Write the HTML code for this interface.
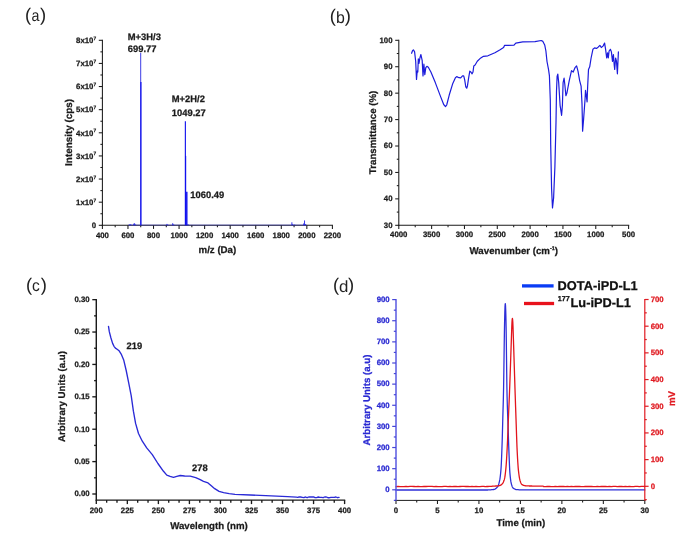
<!DOCTYPE html>
<html><head><meta charset="utf-8"><title>Figure</title>
<style>
html,body{margin:0;padding:0;background:#fff;}
svg{display:block;font-family:"Liberation Sans", Arial, sans-serif;}
</style></head><body>
<svg width="685" height="539" viewBox="0 0 685 539" text-rendering="geometricPrecision">
<rect width="685" height="539" fill="#fff"/>
<text x="24.90" y="20.65" font-size="18.4" fill="#222">(</text>
<text transform="translate(31.40 21.10) scale(0.87 1)" font-size="16.4" fill="#222">a</text>
<text x="40.10" y="20.65" font-size="18.4" fill="#222">)</text>
<text x="329.80" y="22.45" font-size="18.4" fill="#222">(</text>
<text transform="translate(336.10 22.90) scale(0.97 1)" font-size="16.4" fill="#222">b</text>
<text x="344.80" y="22.45" font-size="18.4" fill="#222">)</text>
<text x="26.00" y="290.95" font-size="18.4" fill="#222">(</text>
<text transform="translate(32.10 291.40) scale(0.95 1)" font-size="16.4" fill="#222">c</text>
<text x="40.70" y="290.95" font-size="18.4" fill="#222">)</text>
<text x="332.90" y="291.15" font-size="18.4" fill="#222">(</text>
<text transform="translate(338.90 291.60) scale(1.03 1)" font-size="16.4" fill="#222">d</text>
<text x="348.10" y="291.15" font-size="18.4" fill="#222">)</text>
<line x1="102.40" y1="39.70" x2="102.40" y2="225.90" stroke="#1a1a1a" stroke-width="1.05" />
<line x1="101.80" y1="225.30" x2="333.00" y2="225.30" stroke="#1a1a1a" stroke-width="1.05" />
<line x1="98.80" y1="225.30" x2="102.40" y2="225.30" stroke="#1a1a1a" stroke-width="1.05" />
<line x1="100.40" y1="213.74" x2="102.40" y2="213.74" stroke="#1a1a1a" stroke-width="1.05" />
<text x="96.10" y="228.00" font-size="7.8" font-weight="bold" text-anchor="end" fill="#1a1a1a" stroke="#1a1a1a" stroke-width="0.25" >0</text>
<line x1="98.80" y1="202.18" x2="102.40" y2="202.18" stroke="#1a1a1a" stroke-width="1.05" />
<line x1="100.40" y1="190.61" x2="102.40" y2="190.61" stroke="#1a1a1a" stroke-width="1.05" />
<text x="96.10" y="204.88" font-size="7.8" font-weight="bold" text-anchor="end" fill="#1a1a1a" stroke="#1a1a1a" stroke-width="0.25">1x10<tspan font-size="4.8" dy="-3.2">7</tspan></text>
<line x1="98.80" y1="179.05" x2="102.40" y2="179.05" stroke="#1a1a1a" stroke-width="1.05" />
<line x1="100.40" y1="167.49" x2="102.40" y2="167.49" stroke="#1a1a1a" stroke-width="1.05" />
<text x="96.10" y="181.75" font-size="7.8" font-weight="bold" text-anchor="end" fill="#1a1a1a" stroke="#1a1a1a" stroke-width="0.25">2x10<tspan font-size="4.8" dy="-3.2">7</tspan></text>
<line x1="98.80" y1="155.93" x2="102.40" y2="155.93" stroke="#1a1a1a" stroke-width="1.05" />
<line x1="100.40" y1="144.36" x2="102.40" y2="144.36" stroke="#1a1a1a" stroke-width="1.05" />
<text x="96.10" y="158.62" font-size="7.8" font-weight="bold" text-anchor="end" fill="#1a1a1a" stroke="#1a1a1a" stroke-width="0.25">3x10<tspan font-size="4.8" dy="-3.2">7</tspan></text>
<line x1="98.80" y1="132.80" x2="102.40" y2="132.80" stroke="#1a1a1a" stroke-width="1.05" />
<line x1="100.40" y1="121.24" x2="102.40" y2="121.24" stroke="#1a1a1a" stroke-width="1.05" />
<text x="96.10" y="135.50" font-size="7.8" font-weight="bold" text-anchor="end" fill="#1a1a1a" stroke="#1a1a1a" stroke-width="0.25">4x10<tspan font-size="4.8" dy="-3.2">7</tspan></text>
<line x1="98.80" y1="109.68" x2="102.40" y2="109.68" stroke="#1a1a1a" stroke-width="1.05" />
<line x1="100.40" y1="98.11" x2="102.40" y2="98.11" stroke="#1a1a1a" stroke-width="1.05" />
<text x="96.10" y="112.38" font-size="7.8" font-weight="bold" text-anchor="end" fill="#1a1a1a" stroke="#1a1a1a" stroke-width="0.25">5x10<tspan font-size="4.8" dy="-3.2">7</tspan></text>
<line x1="98.80" y1="86.55" x2="102.40" y2="86.55" stroke="#1a1a1a" stroke-width="1.05" />
<line x1="100.40" y1="74.99" x2="102.40" y2="74.99" stroke="#1a1a1a" stroke-width="1.05" />
<text x="96.10" y="89.25" font-size="7.8" font-weight="bold" text-anchor="end" fill="#1a1a1a" stroke="#1a1a1a" stroke-width="0.25">6x10<tspan font-size="4.8" dy="-3.2">7</tspan></text>
<line x1="98.80" y1="63.43" x2="102.40" y2="63.43" stroke="#1a1a1a" stroke-width="1.05" />
<line x1="100.40" y1="51.86" x2="102.40" y2="51.86" stroke="#1a1a1a" stroke-width="1.05" />
<text x="96.10" y="66.13" font-size="7.8" font-weight="bold" text-anchor="end" fill="#1a1a1a" stroke="#1a1a1a" stroke-width="0.25">7x10<tspan font-size="4.8" dy="-3.2">7</tspan></text>
<line x1="98.80" y1="40.30" x2="102.40" y2="40.30" stroke="#1a1a1a" stroke-width="1.05" />
<text x="96.10" y="43.00" font-size="7.8" font-weight="bold" text-anchor="end" fill="#1a1a1a" stroke="#1a1a1a" stroke-width="0.25">8x10<tspan font-size="4.8" dy="-3.2">7</tspan></text>
<line x1="102.40" y1="225.30" x2="102.40" y2="228.90" stroke="#1a1a1a" stroke-width="1.05" />
<line x1="115.18" y1="225.30" x2="115.18" y2="227.30" stroke="#1a1a1a" stroke-width="1.05" />
<text x="102.40" y="237.70" font-size="7.8" font-weight="bold" text-anchor="middle" fill="#1a1a1a" stroke="#1a1a1a" stroke-width="0.25" >400</text>
<line x1="127.96" y1="225.30" x2="127.96" y2="228.90" stroke="#1a1a1a" stroke-width="1.05" />
<line x1="140.73" y1="225.30" x2="140.73" y2="227.30" stroke="#1a1a1a" stroke-width="1.05" />
<text x="127.96" y="237.70" font-size="7.8" font-weight="bold" text-anchor="middle" fill="#1a1a1a" stroke="#1a1a1a" stroke-width="0.25" >600</text>
<line x1="153.51" y1="225.30" x2="153.51" y2="228.90" stroke="#1a1a1a" stroke-width="1.05" />
<line x1="166.29" y1="225.30" x2="166.29" y2="227.30" stroke="#1a1a1a" stroke-width="1.05" />
<text x="153.51" y="237.70" font-size="7.8" font-weight="bold" text-anchor="middle" fill="#1a1a1a" stroke="#1a1a1a" stroke-width="0.25" >800</text>
<line x1="179.07" y1="225.30" x2="179.07" y2="228.90" stroke="#1a1a1a" stroke-width="1.05" />
<line x1="191.84" y1="225.30" x2="191.84" y2="227.30" stroke="#1a1a1a" stroke-width="1.05" />
<text x="179.07" y="237.70" font-size="7.8" font-weight="bold" text-anchor="middle" fill="#1a1a1a" stroke="#1a1a1a" stroke-width="0.25" >1000</text>
<line x1="204.62" y1="225.30" x2="204.62" y2="228.90" stroke="#1a1a1a" stroke-width="1.05" />
<line x1="217.40" y1="225.30" x2="217.40" y2="227.30" stroke="#1a1a1a" stroke-width="1.05" />
<text x="204.62" y="237.70" font-size="7.8" font-weight="bold" text-anchor="middle" fill="#1a1a1a" stroke="#1a1a1a" stroke-width="0.25" >1200</text>
<line x1="230.18" y1="225.30" x2="230.18" y2="228.90" stroke="#1a1a1a" stroke-width="1.05" />
<line x1="242.96" y1="225.30" x2="242.96" y2="227.30" stroke="#1a1a1a" stroke-width="1.05" />
<text x="230.18" y="237.70" font-size="7.8" font-weight="bold" text-anchor="middle" fill="#1a1a1a" stroke="#1a1a1a" stroke-width="0.25" >1400</text>
<line x1="255.73" y1="225.30" x2="255.73" y2="228.90" stroke="#1a1a1a" stroke-width="1.05" />
<line x1="268.51" y1="225.30" x2="268.51" y2="227.30" stroke="#1a1a1a" stroke-width="1.05" />
<text x="255.73" y="237.70" font-size="7.8" font-weight="bold" text-anchor="middle" fill="#1a1a1a" stroke="#1a1a1a" stroke-width="0.25" >1600</text>
<line x1="281.29" y1="225.30" x2="281.29" y2="228.90" stroke="#1a1a1a" stroke-width="1.05" />
<line x1="294.07" y1="225.30" x2="294.07" y2="227.30" stroke="#1a1a1a" stroke-width="1.05" />
<text x="281.29" y="237.70" font-size="7.8" font-weight="bold" text-anchor="middle" fill="#1a1a1a" stroke="#1a1a1a" stroke-width="0.25" >1800</text>
<line x1="306.84" y1="225.30" x2="306.84" y2="228.90" stroke="#1a1a1a" stroke-width="1.05" />
<line x1="319.62" y1="225.30" x2="319.62" y2="227.30" stroke="#1a1a1a" stroke-width="1.05" />
<text x="306.84" y="237.70" font-size="7.8" font-weight="bold" text-anchor="middle" fill="#1a1a1a" stroke="#1a1a1a" stroke-width="0.25" >2000</text>
<line x1="332.40" y1="225.30" x2="332.40" y2="228.90" stroke="#1a1a1a" stroke-width="1.05" />
<text x="332.40" y="237.70" font-size="7.8" font-weight="bold" text-anchor="middle" fill="#1a1a1a" stroke="#1a1a1a" stroke-width="0.25" >2200</text>
<text x="217.40" y="253.00" font-size="9.7" font-weight="bold" text-anchor="middle" fill="#1a1a1a" stroke="#1a1a1a" stroke-width="0.25" >m/z (Da)</text>
<text x="72.30" y="132.40" font-size="9.899999999999999" font-weight="bold" text-anchor="middle" fill="#1a1a1a" stroke="#1a1a1a" stroke-width="0.25" transform="rotate(-90 72.30 132.40)" >Intensity (cps)</text>
<line x1="140.70" y1="225.30" x2="140.70" y2="52.79" stroke="#3232e4" stroke-width="0.95" />
<line x1="140.93" y1="225.30" x2="140.93" y2="81.93" stroke="#0a0aee" stroke-width="1.1" />
<line x1="185.36" y1="225.30" x2="185.36" y2="121.24" stroke="#0a0aee" stroke-width="1.1" />
<line x1="185.71" y1="225.30" x2="185.71" y2="155.93" stroke="#0a0aee" stroke-width="0.9" />
<line x1="186.80" y1="225.30" x2="186.80" y2="191.77" stroke="#0a0aee" stroke-width="1.4" />
<line x1="129.49" y1="225.30" x2="129.49" y2="224.49" stroke="#2020e8" stroke-width="0.9" />
<line x1="130.77" y1="225.30" x2="130.77" y2="224.14" stroke="#2020e8" stroke-width="0.9" />
<line x1="133.71" y1="225.30" x2="133.71" y2="223.68" stroke="#2020e8" stroke-width="0.9" />
<line x1="134.60" y1="225.30" x2="134.60" y2="223.22" stroke="#2020e8" stroke-width="0.9" />
<line x1="135.62" y1="225.30" x2="135.62" y2="224.49" stroke="#2020e8" stroke-width="0.9" />
<line x1="166.93" y1="225.30" x2="166.93" y2="223.91" stroke="#2020e8" stroke-width="0.9" />
<line x1="167.82" y1="225.30" x2="167.82" y2="224.61" stroke="#2020e8" stroke-width="0.9" />
<line x1="172.68" y1="225.30" x2="172.68" y2="223.22" stroke="#2020e8" stroke-width="0.9" />
<line x1="173.70" y1="225.30" x2="173.70" y2="224.38" stroke="#2020e8" stroke-width="0.9" />
<line x1="188.01" y1="225.30" x2="188.01" y2="224.14" stroke="#2020e8" stroke-width="0.9" />
<line x1="291.89" y1="225.30" x2="291.89" y2="222.29" stroke="#2020e8" stroke-width="0.9" />
<line x1="292.79" y1="225.30" x2="292.79" y2="224.14" stroke="#2020e8" stroke-width="0.9" />
<line x1="294.71" y1="225.30" x2="294.71" y2="224.61" stroke="#2020e8" stroke-width="0.9" />
<line x1="303.65" y1="225.30" x2="303.65" y2="223.45" stroke="#2020e8" stroke-width="0.9" />
<line x1="304.54" y1="225.30" x2="304.54" y2="220.44" stroke="#2020e8" stroke-width="0.9" />
<line x1="305.57" y1="225.30" x2="305.57" y2="224.14" stroke="#2020e8" stroke-width="0.9" />
<line x1="127.96" y1="225.00" x2="306.84" y2="225.00" stroke="#2222dd" stroke-width="0.7" opacity="0.6"/>
<text x="127.80" y="39.60" font-size="9.38" font-weight="bold" text-anchor="start" fill="#1a1a1a" stroke="#1a1a1a" stroke-width="0.25" >M+3H/3</text>
<text x="127.80" y="52.20" font-size="9.38" font-weight="bold" text-anchor="start" fill="#1a1a1a" stroke="#1a1a1a" stroke-width="0.25" >699.77</text>
<text x="171.80" y="102.00" font-size="9.38" font-weight="bold" text-anchor="start" fill="#1a1a1a" stroke="#1a1a1a" stroke-width="0.25" >M+2H/2</text>
<text x="171.80" y="115.70" font-size="9.38" font-weight="bold" text-anchor="start" fill="#1a1a1a" stroke="#1a1a1a" stroke-width="0.25" >1049.27</text>
<text x="190.30" y="198.40" font-size="9.38" font-weight="bold" text-anchor="start" fill="#1a1a1a" stroke="#1a1a1a" stroke-width="0.25" >1060.49</text>
<line x1="398.80" y1="39.70" x2="398.80" y2="225.90" stroke="#1a1a1a" stroke-width="1.05" />
<line x1="398.20" y1="225.30" x2="629.20" y2="225.30" stroke="#1a1a1a" stroke-width="1.05" />
<line x1="395.20" y1="225.30" x2="398.80" y2="225.30" stroke="#1a1a1a" stroke-width="1.05" />
<line x1="396.80" y1="212.09" x2="398.80" y2="212.09" stroke="#1a1a1a" stroke-width="1.05" />
<text x="392.50" y="227.75" font-size="7.8" font-weight="bold" text-anchor="end" fill="#1a1a1a" stroke="#1a1a1a" stroke-width="0.25" >30</text>
<line x1="395.20" y1="198.87" x2="398.80" y2="198.87" stroke="#1a1a1a" stroke-width="1.05" />
<line x1="396.80" y1="185.66" x2="398.80" y2="185.66" stroke="#1a1a1a" stroke-width="1.05" />
<text x="392.50" y="201.32" font-size="7.8" font-weight="bold" text-anchor="end" fill="#1a1a1a" stroke="#1a1a1a" stroke-width="0.25" >40</text>
<line x1="395.20" y1="172.44" x2="398.80" y2="172.44" stroke="#1a1a1a" stroke-width="1.05" />
<line x1="396.80" y1="159.23" x2="398.80" y2="159.23" stroke="#1a1a1a" stroke-width="1.05" />
<text x="392.50" y="174.89" font-size="7.8" font-weight="bold" text-anchor="end" fill="#1a1a1a" stroke="#1a1a1a" stroke-width="0.25" >50</text>
<line x1="395.20" y1="146.01" x2="398.80" y2="146.01" stroke="#1a1a1a" stroke-width="1.05" />
<line x1="396.80" y1="132.80" x2="398.80" y2="132.80" stroke="#1a1a1a" stroke-width="1.05" />
<text x="392.50" y="148.46" font-size="7.8" font-weight="bold" text-anchor="end" fill="#1a1a1a" stroke="#1a1a1a" stroke-width="0.25" >60</text>
<line x1="395.20" y1="119.59" x2="398.80" y2="119.59" stroke="#1a1a1a" stroke-width="1.05" />
<line x1="396.80" y1="106.37" x2="398.80" y2="106.37" stroke="#1a1a1a" stroke-width="1.05" />
<text x="392.50" y="122.04" font-size="7.8" font-weight="bold" text-anchor="end" fill="#1a1a1a" stroke="#1a1a1a" stroke-width="0.25" >70</text>
<line x1="395.20" y1="93.16" x2="398.80" y2="93.16" stroke="#1a1a1a" stroke-width="1.05" />
<line x1="396.80" y1="79.94" x2="398.80" y2="79.94" stroke="#1a1a1a" stroke-width="1.05" />
<text x="392.50" y="95.61" font-size="7.8" font-weight="bold" text-anchor="end" fill="#1a1a1a" stroke="#1a1a1a" stroke-width="0.25" >80</text>
<line x1="395.20" y1="66.73" x2="398.80" y2="66.73" stroke="#1a1a1a" stroke-width="1.05" />
<line x1="396.80" y1="53.51" x2="398.80" y2="53.51" stroke="#1a1a1a" stroke-width="1.05" />
<text x="392.50" y="69.18" font-size="7.8" font-weight="bold" text-anchor="end" fill="#1a1a1a" stroke="#1a1a1a" stroke-width="0.25" >90</text>
<line x1="395.20" y1="40.30" x2="398.80" y2="40.30" stroke="#1a1a1a" stroke-width="1.05" />
<text x="392.50" y="42.75" font-size="7.8" font-weight="bold" text-anchor="end" fill="#1a1a1a" stroke="#1a1a1a" stroke-width="0.25" >100</text>
<line x1="398.80" y1="225.30" x2="398.80" y2="228.90" stroke="#1a1a1a" stroke-width="1.05" />
<line x1="415.21" y1="225.30" x2="415.21" y2="227.30" stroke="#1a1a1a" stroke-width="1.05" />
<text x="398.80" y="237.40" font-size="7.8" font-weight="bold" text-anchor="middle" fill="#1a1a1a" stroke="#1a1a1a" stroke-width="0.25" >4000</text>
<line x1="431.63" y1="225.30" x2="431.63" y2="228.90" stroke="#1a1a1a" stroke-width="1.05" />
<line x1="448.04" y1="225.30" x2="448.04" y2="227.30" stroke="#1a1a1a" stroke-width="1.05" />
<text x="431.63" y="237.40" font-size="7.8" font-weight="bold" text-anchor="middle" fill="#1a1a1a" stroke="#1a1a1a" stroke-width="0.25" >3500</text>
<line x1="464.46" y1="225.30" x2="464.46" y2="228.90" stroke="#1a1a1a" stroke-width="1.05" />
<line x1="480.87" y1="225.30" x2="480.87" y2="227.30" stroke="#1a1a1a" stroke-width="1.05" />
<text x="464.46" y="237.40" font-size="7.8" font-weight="bold" text-anchor="middle" fill="#1a1a1a" stroke="#1a1a1a" stroke-width="0.25" >3000</text>
<line x1="497.29" y1="225.30" x2="497.29" y2="228.90" stroke="#1a1a1a" stroke-width="1.05" />
<line x1="513.70" y1="225.30" x2="513.70" y2="227.30" stroke="#1a1a1a" stroke-width="1.05" />
<text x="497.29" y="237.40" font-size="7.8" font-weight="bold" text-anchor="middle" fill="#1a1a1a" stroke="#1a1a1a" stroke-width="0.25" >2500</text>
<line x1="530.11" y1="225.30" x2="530.11" y2="228.90" stroke="#1a1a1a" stroke-width="1.05" />
<line x1="546.53" y1="225.30" x2="546.53" y2="227.30" stroke="#1a1a1a" stroke-width="1.05" />
<text x="530.11" y="237.40" font-size="7.8" font-weight="bold" text-anchor="middle" fill="#1a1a1a" stroke="#1a1a1a" stroke-width="0.25" >2000</text>
<line x1="562.94" y1="225.30" x2="562.94" y2="228.90" stroke="#1a1a1a" stroke-width="1.05" />
<line x1="579.36" y1="225.30" x2="579.36" y2="227.30" stroke="#1a1a1a" stroke-width="1.05" />
<text x="562.94" y="237.40" font-size="7.8" font-weight="bold" text-anchor="middle" fill="#1a1a1a" stroke="#1a1a1a" stroke-width="0.25" >1500</text>
<line x1="595.77" y1="225.30" x2="595.77" y2="228.90" stroke="#1a1a1a" stroke-width="1.05" />
<line x1="612.19" y1="225.30" x2="612.19" y2="227.30" stroke="#1a1a1a" stroke-width="1.05" />
<text x="595.77" y="237.40" font-size="7.8" font-weight="bold" text-anchor="middle" fill="#1a1a1a" stroke="#1a1a1a" stroke-width="0.25" >1000</text>
<line x1="628.60" y1="225.30" x2="628.60" y2="228.90" stroke="#1a1a1a" stroke-width="1.05" />
<text x="628.60" y="237.40" font-size="7.8" font-weight="bold" text-anchor="middle" fill="#1a1a1a" stroke="#1a1a1a" stroke-width="0.25" >500</text>
<text x="513.8" y="254.4" font-size="9.7" font-weight="bold" text-anchor="middle" fill="#1a1a1a" stroke="#1a1a1a" stroke-width="0.25">Wavenumber (cm<tspan font-size="5.4" dy="-4.4">-1</tspan><tspan dy="4.4">)</tspan></text>
<text x="376.00" y="132.40" font-size="9.7" font-weight="bold" text-anchor="middle" fill="#1a1a1a" stroke="#1a1a1a" stroke-width="0.25" transform="rotate(-90 376.00 132.40)" >Transmittance (%)</text>
<polyline points="411.6,53.3 412.5,50.7 413.4,49.8 414.6,51.9 415.7,61.5 416.5,79.4 417.2,71.2 417.8,72.0 418.3,58.9 419.0,63.3 419.9,58.0 420.9,54.5 422.2,60.7 423.0,75.9 423.9,64.2 424.8,74.7 425.8,67.7 426.9,66.3 428.3,67.3 430.9,72.0 435.3,82.6 440.6,96.6 443.7,104.5 445.5,106.6 446.7,105.0 449.3,94.8 452.8,83.4 455.4,77.7 456.7,76.6 459.0,77.7 460.7,77.8 462.5,75.9 463.7,75.9 464.7,79.9 465.8,86.9 466.7,88.2 467.5,85.7 468.6,78.2 469.8,71.2 470.9,72.0 472.1,73.8 473.0,72.0 473.8,65.9 475.1,65.0 477.3,61.2 480.0,58.6 483.5,56.3 487.9,55.8 494.9,52.8 500.1,49.8 503.6,47.5 504.5,45.4 514.0,45.2 515.8,43.1 522.8,41.9 535.0,41.7 541.2,40.5 542.9,41.4 544.7,44.9 545.9,51.0 547.0,61.5 548.5,69.4 549.4,75.6 550.3,100.0 550.7,144.5 551.6,189.0 552.5,208.0 553.6,198.0 554.9,166.8 556.0,122.3 556.5,91.3 557.1,76.4 557.8,74.1 558.7,82.6 560.1,105.3 561.6,115.3 562.4,105.3 563.1,82.6 564.1,78.2 564.8,84.3 565.9,95.7 566.9,93.1 569.2,80.8 571.5,70.6 573.2,72.0 575.0,67.7 576.6,65.9 578.0,71.2 579.7,80.8 581.1,86.1 582.0,103.6 582.6,131.2 583.6,119.3 585.0,100.0 585.5,90.4 586.2,94.8 587.1,101.8 587.6,87.8 588.5,69.4 589.7,66.8 591.1,58.0 592.9,49.3 594.6,47.9 596.4,48.4 598.1,47.2 599.9,45.4 601.3,47.5 603.0,46.1 604.6,43.1 605.6,49.3 606.7,58.0 607.6,52.8 608.3,58.0 609.1,51.0 610.4,49.3 611.4,51.9 612.5,61.5 613.4,54.5 614.2,65.0 614.7,69.4 615.6,58.0 616.5,61.5 617.4,73.8 618.4,51.9" fill="none" stroke="#1c1cdc" stroke-width="1.2" stroke-linejoin="round" stroke-linecap="round" />
<line x1="96.30" y1="299.05" x2="96.30" y2="500.60" stroke="#1a1a1a" stroke-width="1.45" />
<line x1="95.70" y1="500.10" x2="345.20" y2="500.10" stroke="#1a1a1a" stroke-width="1.15" />
<line x1="92.30" y1="494.00" x2="96.30" y2="494.00" stroke="#1a1a1a" stroke-width="1.35" />
<line x1="94.10" y1="477.80" x2="96.30" y2="477.80" stroke="#1a1a1a" stroke-width="1.35" />
<text x="89.60" y="496.30" font-size="7.8" font-weight="bold" text-anchor="end" fill="#1a1a1a" stroke="#1a1a1a" stroke-width="0.25" >0.00</text>
<line x1="92.30" y1="461.61" x2="96.30" y2="461.61" stroke="#1a1a1a" stroke-width="1.35" />
<line x1="94.10" y1="445.41" x2="96.30" y2="445.41" stroke="#1a1a1a" stroke-width="1.35" />
<text x="89.60" y="463.91" font-size="7.8" font-weight="bold" text-anchor="end" fill="#1a1a1a" stroke="#1a1a1a" stroke-width="0.25" >0.05</text>
<line x1="92.30" y1="429.22" x2="96.30" y2="429.22" stroke="#1a1a1a" stroke-width="1.35" />
<line x1="94.10" y1="413.02" x2="96.30" y2="413.02" stroke="#1a1a1a" stroke-width="1.35" />
<text x="89.60" y="431.52" font-size="7.8" font-weight="bold" text-anchor="end" fill="#1a1a1a" stroke="#1a1a1a" stroke-width="0.25" >0.10</text>
<line x1="92.30" y1="396.82" x2="96.30" y2="396.82" stroke="#1a1a1a" stroke-width="1.35" />
<line x1="94.10" y1="380.63" x2="96.30" y2="380.63" stroke="#1a1a1a" stroke-width="1.35" />
<text x="89.60" y="399.12" font-size="7.8" font-weight="bold" text-anchor="end" fill="#1a1a1a" stroke="#1a1a1a" stroke-width="0.25" >0.15</text>
<line x1="92.30" y1="364.43" x2="96.30" y2="364.43" stroke="#1a1a1a" stroke-width="1.35" />
<line x1="94.10" y1="348.24" x2="96.30" y2="348.24" stroke="#1a1a1a" stroke-width="1.35" />
<text x="89.60" y="366.73" font-size="7.8" font-weight="bold" text-anchor="end" fill="#1a1a1a" stroke="#1a1a1a" stroke-width="0.25" >0.20</text>
<line x1="92.30" y1="332.04" x2="96.30" y2="332.04" stroke="#1a1a1a" stroke-width="1.35" />
<line x1="94.10" y1="315.85" x2="96.30" y2="315.85" stroke="#1a1a1a" stroke-width="1.35" />
<text x="89.60" y="334.34" font-size="7.8" font-weight="bold" text-anchor="end" fill="#1a1a1a" stroke="#1a1a1a" stroke-width="0.25" >0.25</text>
<line x1="92.30" y1="299.65" x2="96.30" y2="299.65" stroke="#1a1a1a" stroke-width="1.35" />
<text x="89.60" y="301.95" font-size="7.8" font-weight="bold" text-anchor="end" fill="#1a1a1a" stroke="#1a1a1a" stroke-width="0.25" >0.30</text>
<line x1="96.30" y1="500.10" x2="96.30" y2="504.10" stroke="#1a1a1a" stroke-width="1.35" />
<line x1="106.65" y1="500.10" x2="106.65" y2="502.70" stroke="#1a1a1a" stroke-width="1.35" />
<line x1="116.99" y1="500.10" x2="116.99" y2="502.70" stroke="#1a1a1a" stroke-width="1.35" />
<text x="96.30" y="512.55" font-size="7.8" font-weight="bold" text-anchor="middle" fill="#1a1a1a" stroke="#1a1a1a" stroke-width="0.25" >200</text>
<line x1="127.34" y1="500.10" x2="127.34" y2="504.10" stroke="#1a1a1a" stroke-width="1.35" />
<line x1="137.68" y1="500.10" x2="137.68" y2="502.70" stroke="#1a1a1a" stroke-width="1.35" />
<line x1="148.03" y1="500.10" x2="148.03" y2="502.70" stroke="#1a1a1a" stroke-width="1.35" />
<text x="127.34" y="512.55" font-size="7.8" font-weight="bold" text-anchor="middle" fill="#1a1a1a" stroke="#1a1a1a" stroke-width="0.25" >225</text>
<line x1="158.38" y1="500.10" x2="158.38" y2="504.10" stroke="#1a1a1a" stroke-width="1.35" />
<line x1="168.72" y1="500.10" x2="168.72" y2="502.70" stroke="#1a1a1a" stroke-width="1.35" />
<line x1="179.07" y1="500.10" x2="179.07" y2="502.70" stroke="#1a1a1a" stroke-width="1.35" />
<text x="158.38" y="512.55" font-size="7.8" font-weight="bold" text-anchor="middle" fill="#1a1a1a" stroke="#1a1a1a" stroke-width="0.25" >250</text>
<line x1="189.41" y1="500.10" x2="189.41" y2="504.10" stroke="#1a1a1a" stroke-width="1.35" />
<line x1="199.76" y1="500.10" x2="199.76" y2="502.70" stroke="#1a1a1a" stroke-width="1.35" />
<line x1="210.10" y1="500.10" x2="210.10" y2="502.70" stroke="#1a1a1a" stroke-width="1.35" />
<text x="189.41" y="512.55" font-size="7.8" font-weight="bold" text-anchor="middle" fill="#1a1a1a" stroke="#1a1a1a" stroke-width="0.25" >275</text>
<line x1="220.45" y1="500.10" x2="220.45" y2="504.10" stroke="#1a1a1a" stroke-width="1.35" />
<line x1="230.80" y1="500.10" x2="230.80" y2="502.70" stroke="#1a1a1a" stroke-width="1.35" />
<line x1="241.14" y1="500.10" x2="241.14" y2="502.70" stroke="#1a1a1a" stroke-width="1.35" />
<text x="220.45" y="512.55" font-size="7.8" font-weight="bold" text-anchor="middle" fill="#1a1a1a" stroke="#1a1a1a" stroke-width="0.25" >300</text>
<line x1="251.49" y1="500.10" x2="251.49" y2="504.10" stroke="#1a1a1a" stroke-width="1.35" />
<line x1="261.83" y1="500.10" x2="261.83" y2="502.70" stroke="#1a1a1a" stroke-width="1.35" />
<line x1="272.18" y1="500.10" x2="272.18" y2="502.70" stroke="#1a1a1a" stroke-width="1.35" />
<text x="251.49" y="512.55" font-size="7.8" font-weight="bold" text-anchor="middle" fill="#1a1a1a" stroke="#1a1a1a" stroke-width="0.25" >325</text>
<line x1="282.53" y1="500.10" x2="282.53" y2="504.10" stroke="#1a1a1a" stroke-width="1.35" />
<line x1="292.87" y1="500.10" x2="292.87" y2="502.70" stroke="#1a1a1a" stroke-width="1.35" />
<line x1="303.22" y1="500.10" x2="303.22" y2="502.70" stroke="#1a1a1a" stroke-width="1.35" />
<text x="282.53" y="512.55" font-size="7.8" font-weight="bold" text-anchor="middle" fill="#1a1a1a" stroke="#1a1a1a" stroke-width="0.25" >350</text>
<line x1="313.56" y1="500.10" x2="313.56" y2="504.10" stroke="#1a1a1a" stroke-width="1.35" />
<line x1="323.91" y1="500.10" x2="323.91" y2="502.70" stroke="#1a1a1a" stroke-width="1.35" />
<line x1="334.25" y1="500.10" x2="334.25" y2="502.70" stroke="#1a1a1a" stroke-width="1.35" />
<text x="313.56" y="512.55" font-size="7.8" font-weight="bold" text-anchor="middle" fill="#1a1a1a" stroke="#1a1a1a" stroke-width="0.25" >375</text>
<line x1="344.60" y1="500.10" x2="344.60" y2="504.10" stroke="#1a1a1a" stroke-width="1.35" />
<text x="344.60" y="512.55" font-size="7.8" font-weight="bold" text-anchor="middle" fill="#1a1a1a" stroke="#1a1a1a" stroke-width="0.25" >400</text>
<text x="209.00" y="529.10" font-size="9.7" font-weight="bold" text-anchor="middle" fill="#1a1a1a" stroke="#1a1a1a" stroke-width="0.25" >Wavelength (nm)</text>
<text x="65.00" y="396.50" font-size="9.7" font-weight="bold" text-anchor="middle" fill="#1a1a1a" stroke="#1a1a1a" stroke-width="0.25" transform="rotate(-90 65.00 396.50)" >Arbitrary Units (a.u)</text>
<polyline points="108.5,326.4 109.3,331.7 110.8,337.5 112.6,343.4 114.0,346.3 115.4,348.1 117.5,349.5 119.0,350.7 121.5,354.7 123.8,360.3 126.2,370.5 128.6,382.4 131.2,395.6 133.4,411.2 135.6,423.4 138.5,433.5 142.3,441.2 146.7,447.9 152.3,454.6 157.9,463.5 163.5,471.3 166.8,475.1 170.1,476.4 173.5,477.3 176.8,476.4 180.2,475.5 184.6,476.0 190.2,476.2 195.7,477.6 200.2,479.6 203.5,481.3 208.0,482.9 211.3,485.8 214.7,488.7 219.1,491.4 223.6,492.7 229.2,493.6 235.0,494.4 250.4,495.0 265.7,495.7 287.6,496.6 296.3,497.2 297.5,497.3 299.1,497.0 300.7,497.0 302.3,497.3 303.9,497.6 305.5,497.0 307.1,497.7 308.7,497.0 310.3,496.9 311.9,497.0 313.5,496.9 315.1,497.7 316.7,497.6 318.3,497.0 319.9,497.3 321.5,497.3 323.1,497.7 324.7,497.0 326.3,497.0 327.9,497.7 329.5,497.7 331.1,497.3 332.7,497.3 334.3,497.3 335.9,497.0 337.5,497.7 339.0,497.4" fill="none" stroke="#2a2ad6" stroke-width="1.35" stroke-linejoin="round" stroke-linecap="round" />
<text x="126.50" y="348.70" font-size="9.38" font-weight="bold" text-anchor="start" fill="#1a1a1a" stroke="#1a1a1a" stroke-width="0.25" >219</text>
<text x="192.00" y="470.90" font-size="9.38" font-weight="bold" text-anchor="start" fill="#1a1a1a" stroke="#1a1a1a" stroke-width="0.25" >278</text>
<polyline points="396.0,490.0 398.0,490.0 400.0,490.0 402.0,490.0 404.0,490.0 406.0,490.0 408.0,490.0 410.0,490.0 412.0,490.0 414.0,490.0 416.0,490.0 418.0,490.0 420.0,490.0 422.0,490.0 424.0,490.0 426.0,490.0 428.0,490.0 430.0,490.0 432.0,490.0 434.0,490.0 436.0,490.0 438.0,490.0 440.0,490.0 442.0,490.0 444.0,490.0 446.0,490.0 448.0,490.0 450.0,490.0 452.0,490.0 454.0,490.0 456.0,490.0 458.0,490.0 460.0,490.0 462.0,490.0 464.0,490.0 466.0,490.0 468.0,490.0 470.0,490.0 472.0,490.0 474.0,490.0 476.0,490.0 478.0,490.0 480.0,490.0 482.0,490.0 484.0,490.0 485.0,490.0 485.2,490.0 485.4,490.0 485.6,490.0 485.8,490.0 486.0,490.0 486.2,490.0 486.4,490.0 486.6,490.0 486.8,490.0 487.0,490.0 487.2,490.0 487.4,490.0 487.6,490.0 487.8,490.0 488.0,489.9 488.2,489.9 488.4,489.9 488.6,489.9 488.8,489.9 489.0,489.9 489.2,489.9 489.4,489.9 489.6,489.9 489.8,489.9 490.0,489.8 490.2,489.8 490.4,489.8 490.6,489.8 490.8,489.8 491.0,489.8 491.2,489.8 491.4,489.7 491.6,489.7 491.8,489.7 492.0,489.7 492.2,489.7 492.4,489.7 492.6,489.6 492.8,489.6 493.0,489.6 493.2,489.6 493.4,489.5 493.6,489.5 493.8,489.5 494.0,489.5 494.2,489.4 494.4,489.4 494.6,489.3 494.8,489.2 495.0,489.1 495.2,489.0 495.4,488.9 495.6,488.7 495.8,488.6 496.0,488.4 496.2,488.2 496.4,488.1 496.6,487.9 496.8,487.7 497.0,487.4 497.2,487.2 497.4,487.0 497.6,486.7 497.8,486.5 498.0,486.1 498.2,485.7 498.4,485.2 498.6,484.6 498.8,483.9 499.0,483.2 499.2,482.4 499.4,481.6 499.6,480.7 499.8,479.7 500.0,478.5 500.2,477.0 500.4,475.4 500.6,473.5 500.8,471.4 501.0,469.0 501.2,466.0 501.4,462.0 501.6,457.3 501.8,452.1 502.0,446.5 502.2,440.7 502.4,433.6 502.6,425.9 502.8,418.2 503.0,411.1 503.2,404.5 503.4,397.1 503.6,387.3 503.8,374.5 504.0,360.1 504.2,345.6 504.4,332.5 504.6,321.7 504.8,313.0 505.0,306.9 505.2,304.1 505.3,303.6 505.5,305.3 505.7,309.7 505.9,317.0 506.1,326.8 506.3,339.9 506.5,356.0 506.7,372.4 506.9,386.9 507.1,397.1 507.3,404.4 507.5,410.5 507.7,415.9 507.9,421.3 508.1,427.2 508.3,433.3 508.5,439.4 508.7,445.3 508.9,450.8 509.1,455.9 509.3,461.0 509.5,465.8 509.7,469.9 509.9,472.9 510.1,475.1 510.3,477.1 510.5,478.9 510.7,480.4 510.9,481.7 511.1,482.7 511.3,483.6 511.5,484.3 511.7,485.0 511.9,485.6 512.1,486.2 512.3,486.7 512.5,487.1 512.7,487.5 512.9,487.8 513.1,488.0 513.3,488.2 513.5,488.3 513.7,488.5 513.9,488.6 514.1,488.7 514.3,488.8 514.5,488.9 514.7,489.0 514.9,489.1 515.1,489.2 515.3,489.3 515.5,489.4 515.7,489.5 515.9,489.5 516.1,489.6 516.3,489.6 516.5,489.6 516.7,489.7 516.9,489.7 517.1,489.7 517.3,489.7 517.5,489.7 517.7,489.7 517.9,489.7 518.1,489.7 518.3,489.7 518.5,489.7 518.7,489.8 518.9,489.8 519.1,489.8 519.3,489.8 519.5,489.8 519.7,489.8 519.9,489.8 520.1,489.8 520.3,489.8 520.5,489.8 520.7,489.8 520.9,489.8 521.1,489.8 521.3,489.8 521.5,489.8 521.7,489.8 521.9,489.8 522.1,489.8 522.3,489.8 522.5,489.8 522.7,489.8 522.9,489.8 523.1,489.9 523.3,489.9 523.5,489.9 523.7,489.9 523.9,489.9 524.1,489.9 524.3,489.9 524.5,489.9 524.7,489.9 524.9,489.9 525.1,489.9 525.3,489.9 525.5,489.9 525.7,489.9 525.9,489.9 526.1,489.9 526.3,489.9 526.5,489.9 526.7,489.9 526.9,489.9 527.1,489.9 527.3,489.9 527.5,489.9 527.7,489.9 527.9,489.9 528.1,489.9 528.3,489.9 528.5,489.9 528.7,489.9 528.9,489.9 529.1,489.9 529.3,489.9 529.5,489.9 529.7,489.9 529.9,489.9 530.0,489.9 532.0,489.9 534.0,489.9 536.0,489.9 538.0,489.9 540.0,489.9 542.0,489.9 544.0,489.9 546.0,489.9 548.0,489.9 550.0,489.9 552.0,489.9 554.0,489.9 556.0,489.9 558.0,489.9 560.0,489.9 562.0,489.9 564.0,489.9 566.0,489.9 568.0,489.9 570.0,489.9 572.0,489.9 574.0,489.9 576.0,489.9 578.0,489.9 580.0,489.9 582.0,489.9 584.0,489.9 586.0,489.9 588.0,489.9 590.0,489.9 592.0,489.9 594.0,489.9 596.0,489.9 598.0,489.9 600.0,489.9 602.0,489.9 604.0,489.9 606.0,489.9 608.0,489.9 610.0,489.9 612.0,489.9 614.0,489.9 616.0,489.9 618.0,489.9 620.0,489.9 622.0,489.9 624.0,489.9 626.0,489.9 628.0,489.9 630.0,489.9 632.0,489.9 634.0,489.9 636.0,489.9 638.0,489.9 640.0,489.9 642.0,489.9 644.0,489.9 644.8,489.9" fill="none" stroke="#2e2ed8" stroke-width="1.28" stroke-linejoin="round" stroke-linecap="round" />
<polyline points="396.0,486.7 398.0,486.5 400.0,486.7 402.0,486.6 404.0,486.6 406.0,486.4 408.0,486.7 410.0,486.3 412.0,486.4 414.0,486.5 416.0,486.6 418.0,486.3 420.0,486.7 422.0,486.7 424.0,486.3 426.0,486.5 428.0,486.3 430.0,486.4 432.0,486.3 434.0,486.7 436.0,486.5 438.0,486.7 440.0,486.6 442.0,486.7 444.0,486.3 446.0,486.3 448.0,486.6 450.0,486.3 452.0,486.6 454.0,486.5 456.0,486.5 458.0,486.7 460.0,486.5 462.0,486.3 464.0,486.3 466.0,486.5 468.0,486.5 470.0,486.6 472.0,486.5 474.0,486.6 476.0,486.4 478.0,486.6 480.0,486.6 482.0,486.3 484.0,486.4 485.0,486.6 485.2,486.6 485.4,486.6 485.6,486.6 485.8,486.6 486.0,486.6 486.2,486.6 486.4,486.5 486.6,486.5 486.8,486.5 487.0,486.5 487.2,486.5 487.4,486.5 487.6,486.5 487.8,486.5 488.0,486.5 488.2,486.5 488.4,486.5 488.6,486.4 488.8,486.4 489.0,486.4 489.2,486.4 489.4,486.4 489.6,486.4 489.8,486.4 490.0,486.4 490.2,486.4 490.4,486.3 490.6,486.3 490.8,486.3 491.0,486.3 491.2,486.3 491.4,486.3 491.6,486.3 491.8,486.3 492.0,486.3 492.2,486.2 492.4,486.2 492.6,486.2 492.8,486.2 493.0,486.2 493.2,486.2 493.4,486.2 493.6,486.2 493.8,486.1 494.0,486.1 494.2,486.1 494.4,486.1 494.6,486.1 494.8,486.1 495.0,486.1 495.2,486.1 495.4,486.0 495.6,486.0 495.8,486.0 496.0,486.0 496.2,486.0 496.4,486.0 496.6,486.0 496.8,485.9 497.0,485.9 497.2,485.9 497.4,485.9 497.6,485.9 497.8,485.9 498.0,485.8 498.2,485.8 498.4,485.8 498.6,485.8 498.8,485.7 499.0,485.7 499.2,485.7 499.4,485.6 499.6,485.6 499.8,485.6 500.0,485.5 500.2,485.4 500.4,485.3 500.6,485.2 500.8,485.1 501.0,485.0 501.2,484.8 501.4,484.7 501.6,484.5 501.8,484.3 502.0,484.1 502.2,483.9 502.4,483.7 502.6,483.5 502.8,483.2 503.0,482.9 503.2,482.5 503.4,482.1 503.6,481.6 503.8,481.1 504.0,480.5 504.2,479.9 504.4,479.2 504.6,478.4 504.8,477.4 505.0,476.1 505.2,474.6 505.4,473.0 505.6,471.2 505.8,469.2 506.0,467.1 506.2,464.7 506.4,461.9 506.6,458.8 506.8,455.3 507.0,451.6 507.2,447.7 507.4,443.7 507.6,439.2 507.8,434.2 508.0,428.9 508.2,423.5 508.4,418.4 508.6,413.7 508.8,409.1 509.0,404.6 509.2,399.9 509.4,395.0 509.6,389.8 509.8,384.5 510.0,378.9 510.2,373.3 510.4,367.5 510.6,361.7 510.8,355.8 511.0,350.0 511.2,344.1 511.4,338.3 511.6,332.6 511.8,326.5 512.0,322.0 512.2,319.3 512.4,318.3 512.6,319.3 512.8,322.0 513.0,326.5 513.2,332.6 513.4,338.5 513.6,344.7 513.8,350.9 514.0,357.2 514.2,363.6 514.4,370.0 514.6,376.4 514.8,382.7 515.0,388.9 515.2,395.0 515.4,401.0 515.6,406.9 515.8,412.7 516.0,418.5 516.2,424.2 516.4,430.2 516.6,436.3 516.8,442.1 517.0,447.3 517.2,451.5 517.4,455.4 517.6,459.0 517.8,462.3 518.0,465.2 518.2,467.9 518.4,470.1 518.6,471.9 518.8,473.5 519.0,475.0 519.2,476.4 519.4,477.6 519.6,478.7 519.8,479.6 520.0,480.4 520.2,481.0 520.4,481.6 520.6,482.2 520.8,482.7 521.0,483.1 521.2,483.6 521.4,483.9 521.6,484.2 521.8,484.4 522.0,484.6 522.2,484.7 522.4,484.8 522.6,484.9 522.8,485.0 523.0,485.1 523.2,485.2 523.4,485.3 523.6,485.3 523.8,485.4 524.0,485.5 524.2,485.5 524.4,485.6 524.6,485.6 524.8,485.7 525.0,485.7 525.2,485.7 525.4,485.8 525.6,485.8 525.8,485.8 526.0,485.8 526.2,485.8 526.4,485.8 526.6,485.8 526.8,485.8 527.0,485.9 527.2,485.9 527.4,485.9 527.6,485.9 527.8,485.9 528.0,485.9 528.2,485.9 528.4,485.9 528.6,485.9 528.8,485.9 529.0,485.9 529.2,486.0 529.4,486.0 529.6,486.0 529.8,486.0 530.0,486.0 530.2,486.0 530.4,486.0 530.6,486.0 530.8,486.0 531.0,486.0 531.2,486.0 531.4,486.0 531.6,486.0 531.8,486.0 532.0,486.0 532.2,486.1 532.4,486.1 532.6,486.1 532.8,486.1 533.0,486.1 533.2,486.1 533.4,486.1 533.6,486.1 533.8,486.1 534.0,486.1 534.2,486.1 534.4,486.1 534.6,486.1 534.8,486.1 535.0,486.1 535.2,486.1 535.4,486.1 535.6,486.1 535.8,486.1 536.0,486.1 536.2,486.1 536.4,486.1 536.6,486.1 536.8,486.2 537.0,486.2 537.2,486.2 537.4,486.2 537.6,486.2 537.8,486.2 538.0,486.2 538.2,486.2 538.4,486.2 538.6,486.2 538.8,486.2 539.0,486.2 539.2,486.2 539.4,486.2 539.6,486.2 539.8,486.2 540.0,486.2 540.2,486.2 540.4,486.2 540.6,486.2 540.8,486.2 541.0,486.2 541.2,486.2 541.4,486.2 541.6,486.2 541.8,486.2 542.0,486.2 542.2,486.2 542.4,486.2 542.6,486.2 542.8,486.2 543.0,486.2 543.2,486.2 543.4,486.5 545.4,486.6 547.4,486.4 549.4,486.5 551.4,486.6 553.4,486.7 555.4,486.4 557.4,486.6 559.4,486.3 561.4,486.5 563.4,486.3 565.4,486.7 567.4,486.5 569.4,486.7 571.4,486.5 573.4,486.7 575.4,486.5 577.4,486.4 579.4,486.5 581.4,486.7 583.4,486.7 585.4,486.5 587.4,486.3 589.4,486.5 591.4,486.4 593.4,486.6 595.4,486.7 597.4,486.5 599.4,486.6 601.4,486.3 603.4,486.5 605.4,486.3 607.4,486.6 609.4,486.4 611.4,486.6 613.4,486.3 615.4,486.3 617.4,486.6 619.4,486.5 621.4,486.5 623.4,486.7 625.4,486.5 627.4,486.7 629.4,486.5 631.4,486.7 633.4,486.6 635.4,486.3 637.4,486.4 639.4,486.7 641.4,486.4 643.4,486.3 644.8,486.5" fill="none" stroke="#e2141c" stroke-width="1.3" stroke-linejoin="round" stroke-linecap="round" />
<line x1="395.40" y1="500.40" x2="645.40" y2="500.40" stroke="#111" stroke-width="0.95" />
<line x1="396.00" y1="299.00" x2="396.00" y2="500.90" stroke="#5a5ae0" stroke-width="1.5" />
<line x1="644.80" y1="298.90" x2="644.80" y2="500.90" stroke="#e01b22" stroke-width="1.2" />
<line x1="392.20" y1="489.80" x2="396.00" y2="489.80" stroke="#4646d8" stroke-width="1.2" />
<line x1="393.80" y1="479.23" x2="396.00" y2="479.23" stroke="#4646d8" stroke-width="1.2" />
<text x="389.70" y="492.10" font-size="7.8" font-weight="bold" text-anchor="end" fill="#2a2ad2" stroke="#2a2ad2" stroke-width="0.25" >0</text>
<line x1="392.20" y1="468.67" x2="396.00" y2="468.67" stroke="#4646d8" stroke-width="1.2" />
<line x1="393.80" y1="458.10" x2="396.00" y2="458.10" stroke="#4646d8" stroke-width="1.2" />
<text x="389.70" y="470.97" font-size="7.8" font-weight="bold" text-anchor="end" fill="#2a2ad2" stroke="#2a2ad2" stroke-width="0.25" >100</text>
<line x1="392.20" y1="447.53" x2="396.00" y2="447.53" stroke="#4646d8" stroke-width="1.2" />
<line x1="393.80" y1="436.97" x2="396.00" y2="436.97" stroke="#4646d8" stroke-width="1.2" />
<text x="389.70" y="449.83" font-size="7.8" font-weight="bold" text-anchor="end" fill="#2a2ad2" stroke="#2a2ad2" stroke-width="0.25" >200</text>
<line x1="392.20" y1="426.40" x2="396.00" y2="426.40" stroke="#4646d8" stroke-width="1.2" />
<line x1="393.80" y1="415.83" x2="396.00" y2="415.83" stroke="#4646d8" stroke-width="1.2" />
<text x="389.70" y="428.70" font-size="7.8" font-weight="bold" text-anchor="end" fill="#2a2ad2" stroke="#2a2ad2" stroke-width="0.25" >300</text>
<line x1="392.20" y1="405.27" x2="396.00" y2="405.27" stroke="#4646d8" stroke-width="1.2" />
<line x1="393.80" y1="394.70" x2="396.00" y2="394.70" stroke="#4646d8" stroke-width="1.2" />
<text x="389.70" y="407.57" font-size="7.8" font-weight="bold" text-anchor="end" fill="#2a2ad2" stroke="#2a2ad2" stroke-width="0.25" >400</text>
<line x1="392.20" y1="384.13" x2="396.00" y2="384.13" stroke="#4646d8" stroke-width="1.2" />
<line x1="393.80" y1="373.57" x2="396.00" y2="373.57" stroke="#4646d8" stroke-width="1.2" />
<text x="389.70" y="386.43" font-size="7.8" font-weight="bold" text-anchor="end" fill="#2a2ad2" stroke="#2a2ad2" stroke-width="0.25" >500</text>
<line x1="392.20" y1="363.00" x2="396.00" y2="363.00" stroke="#4646d8" stroke-width="1.2" />
<line x1="393.80" y1="352.43" x2="396.00" y2="352.43" stroke="#4646d8" stroke-width="1.2" />
<text x="389.70" y="365.30" font-size="7.8" font-weight="bold" text-anchor="end" fill="#2a2ad2" stroke="#2a2ad2" stroke-width="0.25" >600</text>
<line x1="392.20" y1="341.87" x2="396.00" y2="341.87" stroke="#4646d8" stroke-width="1.2" />
<line x1="393.80" y1="331.30" x2="396.00" y2="331.30" stroke="#4646d8" stroke-width="1.2" />
<text x="389.70" y="344.17" font-size="7.8" font-weight="bold" text-anchor="end" fill="#2a2ad2" stroke="#2a2ad2" stroke-width="0.25" >700</text>
<line x1="392.20" y1="320.73" x2="396.00" y2="320.73" stroke="#4646d8" stroke-width="1.2" />
<line x1="393.80" y1="310.17" x2="396.00" y2="310.17" stroke="#4646d8" stroke-width="1.2" />
<text x="389.70" y="323.03" font-size="7.8" font-weight="bold" text-anchor="end" fill="#2a2ad2" stroke="#2a2ad2" stroke-width="0.25" >800</text>
<line x1="392.20" y1="299.60" x2="396.00" y2="299.60" stroke="#4646d8" stroke-width="1.2" />
<text x="389.70" y="301.90" font-size="7.8" font-weight="bold" text-anchor="end" fill="#2a2ad2" stroke="#2a2ad2" stroke-width="0.25" >900</text>
<line x1="393.80" y1="500.37" x2="396.00" y2="500.37" stroke="#4646d8" stroke-width="1.2" />
<line x1="644.80" y1="486.30" x2="648.60" y2="486.30" stroke="#e01b22" stroke-width="1.2" />
<line x1="644.80" y1="472.96" x2="646.80" y2="472.96" stroke="#e01b22" stroke-width="1.2" />
<text x="650.70" y="488.70" font-size="7.8" font-weight="bold" text-anchor="start" fill="#e01b22" stroke="#e01b22" stroke-width="0.25" >0</text>
<line x1="644.80" y1="459.61" x2="648.60" y2="459.61" stroke="#e01b22" stroke-width="1.2" />
<line x1="644.80" y1="446.27" x2="646.80" y2="446.27" stroke="#e01b22" stroke-width="1.2" />
<text x="650.70" y="462.01" font-size="7.8" font-weight="bold" text-anchor="start" fill="#e01b22" stroke="#e01b22" stroke-width="0.25" >100</text>
<line x1="644.80" y1="432.93" x2="648.60" y2="432.93" stroke="#e01b22" stroke-width="1.2" />
<line x1="644.80" y1="419.59" x2="646.80" y2="419.59" stroke="#e01b22" stroke-width="1.2" />
<text x="650.70" y="435.33" font-size="7.8" font-weight="bold" text-anchor="start" fill="#e01b22" stroke="#e01b22" stroke-width="0.25" >200</text>
<line x1="644.80" y1="406.24" x2="648.60" y2="406.24" stroke="#e01b22" stroke-width="1.2" />
<line x1="644.80" y1="392.90" x2="646.80" y2="392.90" stroke="#e01b22" stroke-width="1.2" />
<text x="650.70" y="408.64" font-size="7.8" font-weight="bold" text-anchor="start" fill="#e01b22" stroke="#e01b22" stroke-width="0.25" >300</text>
<line x1="644.80" y1="379.56" x2="648.60" y2="379.56" stroke="#e01b22" stroke-width="1.2" />
<line x1="644.80" y1="366.21" x2="646.80" y2="366.21" stroke="#e01b22" stroke-width="1.2" />
<text x="650.70" y="381.96" font-size="7.8" font-weight="bold" text-anchor="start" fill="#e01b22" stroke="#e01b22" stroke-width="0.25" >400</text>
<line x1="644.80" y1="352.87" x2="648.60" y2="352.87" stroke="#e01b22" stroke-width="1.2" />
<line x1="644.80" y1="339.53" x2="646.80" y2="339.53" stroke="#e01b22" stroke-width="1.2" />
<text x="650.70" y="355.27" font-size="7.8" font-weight="bold" text-anchor="start" fill="#e01b22" stroke="#e01b22" stroke-width="0.25" >500</text>
<line x1="644.80" y1="326.19" x2="648.60" y2="326.19" stroke="#e01b22" stroke-width="1.2" />
<line x1="644.80" y1="312.84" x2="646.80" y2="312.84" stroke="#e01b22" stroke-width="1.2" />
<text x="650.70" y="328.59" font-size="7.8" font-weight="bold" text-anchor="start" fill="#e01b22" stroke="#e01b22" stroke-width="0.25" >600</text>
<line x1="644.80" y1="299.50" x2="648.60" y2="299.50" stroke="#e01b22" stroke-width="1.2" />
<text x="650.70" y="301.90" font-size="7.8" font-weight="bold" text-anchor="start" fill="#e01b22" stroke="#e01b22" stroke-width="0.25" >700</text>
<line x1="644.80" y1="499.64" x2="646.80" y2="499.64" stroke="#e01b22" stroke-width="1.2" />
<line x1="396.00" y1="500.40" x2="396.00" y2="504.00" stroke="#1a1a1a" stroke-width="1.05" />
<line x1="416.73" y1="500.40" x2="416.73" y2="502.40" stroke="#1a1a1a" stroke-width="1.05" />
<text x="396.00" y="513.00" font-size="7.8" font-weight="bold" text-anchor="middle" fill="#1a1a1a" stroke="#1a1a1a" stroke-width="0.25" >0</text>
<line x1="437.47" y1="500.40" x2="437.47" y2="504.00" stroke="#1a1a1a" stroke-width="1.05" />
<line x1="458.20" y1="500.40" x2="458.20" y2="502.40" stroke="#1a1a1a" stroke-width="1.05" />
<text x="437.47" y="513.00" font-size="7.8" font-weight="bold" text-anchor="middle" fill="#1a1a1a" stroke="#1a1a1a" stroke-width="0.25" >5</text>
<line x1="478.93" y1="500.40" x2="478.93" y2="504.00" stroke="#1a1a1a" stroke-width="1.05" />
<line x1="499.67" y1="500.40" x2="499.67" y2="502.40" stroke="#1a1a1a" stroke-width="1.05" />
<text x="478.93" y="513.00" font-size="7.8" font-weight="bold" text-anchor="middle" fill="#1a1a1a" stroke="#1a1a1a" stroke-width="0.25" >10</text>
<line x1="520.40" y1="500.40" x2="520.40" y2="504.00" stroke="#1a1a1a" stroke-width="1.05" />
<line x1="541.13" y1="500.40" x2="541.13" y2="502.40" stroke="#1a1a1a" stroke-width="1.05" />
<text x="520.40" y="513.00" font-size="7.8" font-weight="bold" text-anchor="middle" fill="#1a1a1a" stroke="#1a1a1a" stroke-width="0.25" >15</text>
<line x1="561.87" y1="500.40" x2="561.87" y2="504.00" stroke="#1a1a1a" stroke-width="1.05" />
<line x1="582.60" y1="500.40" x2="582.60" y2="502.40" stroke="#1a1a1a" stroke-width="1.05" />
<text x="561.87" y="513.00" font-size="7.8" font-weight="bold" text-anchor="middle" fill="#1a1a1a" stroke="#1a1a1a" stroke-width="0.25" >20</text>
<line x1="603.33" y1="500.40" x2="603.33" y2="504.00" stroke="#1a1a1a" stroke-width="1.05" />
<line x1="624.07" y1="500.40" x2="624.07" y2="502.40" stroke="#1a1a1a" stroke-width="1.05" />
<text x="603.33" y="513.00" font-size="7.8" font-weight="bold" text-anchor="middle" fill="#1a1a1a" stroke="#1a1a1a" stroke-width="0.25" >25</text>
<line x1="644.80" y1="500.40" x2="644.80" y2="504.00" stroke="#1a1a1a" stroke-width="1.05" />
<text x="644.80" y="513.00" font-size="7.8" font-weight="bold" text-anchor="middle" fill="#1a1a1a" stroke="#1a1a1a" stroke-width="0.25" >30</text>
<text x="520.80" y="526.00" font-size="9.7" font-weight="bold" text-anchor="middle" fill="#1a1a1a" stroke="#1a1a1a" stroke-width="0.25" >Time (min)</text>
<text x="370.30" y="400.00" font-size="9.7" font-weight="bold" text-anchor="middle" fill="#2a2ad2" stroke="#2a2ad2" stroke-width="0.25" transform="rotate(-90 370.30 400.00)" >Arbitrary Units (a.u)</text>
<text x="675.00" y="398.50" font-size="9.7" font-weight="bold" text-anchor="middle" fill="#e01b22" stroke="#e01b22" stroke-width="0.25" transform="rotate(-90 675.00 398.50)" >mV</text>
<line x1="522.00" y1="285.90" x2="553.60" y2="285.90" stroke="#0a3cf5" stroke-width="3.3" />
<line x1="524.00" y1="303.50" x2="554.10" y2="303.50" stroke="#e8121c" stroke-width="3.3" />
<text x="557.60" y="289.50" font-size="12.8" font-weight="bold" text-anchor="start" fill="#111" stroke="#111" stroke-width="0.25" >DOTA-iPD-L1</text>
<text x="557.8" y="307.1" font-size="12.8" font-weight="bold" fill="#111" stroke="#111" stroke-width="0.25"><tspan font-size="7.2" dy="-6.2">177</tspan><tspan dy="6.2" dx="0.7">Lu-iPD-L1</tspan></text>
</svg>
</body></html>
